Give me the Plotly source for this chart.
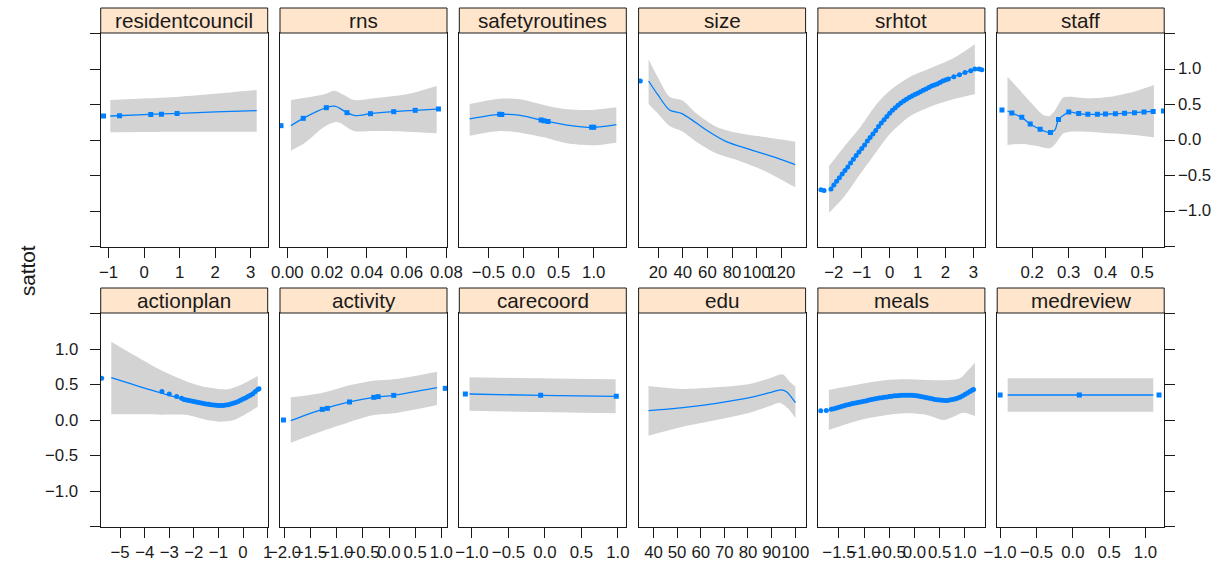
import plotly.graph_objects as go

# ---------------------------------------------------------------- data
# Each panel: fitted effect (fit), confidence limits (lo/hi) and the
# observed values drawn on the curve (px/py).

# residentcouncil
rc_x = [-0.95, 0.0, 1.0, 2.0, 3.17]
rc_fit = [0.338, 0.357, 0.376, 0.395, 0.413]
rc_hi = [0.563, 0.585, 0.61, 0.65, 0.704]
rc_lo = [0.108, 0.112, 0.115, 0.117, 0.117]
rc_px = [-1.14, -0.69, 0.19, 0.49, 0.93]
rc_py = [0.338, 0.343, 0.359, 0.364, 0.373]

# rns
rns_x = [0.0018, 0.008, 0.0196, 0.0243, 0.030, 0.0343, 0.0418, 0.0535, 0.0643, 0.0751]
rns_fit = [0.202, 0.305, 0.455, 0.474, 0.385, 0.343, 0.371, 0.399, 0.418, 0.435]
rns_hi_x = [0.0018, 0.0186, 0.0235, 0.0285, 0.0335, 0.0435, 0.06, 0.0751]
rns_hi = [0.563, 0.643, 0.695, 0.634, 0.563, 0.587, 0.643, 0.76]
rns_lo_x = [0.0018, 0.0085, 0.0186, 0.0251, 0.0335, 0.0435, 0.06, 0.0751]
rns_lo = [-0.150, -0.047, 0.188, 0.254, 0.127, 0.127, 0.117, 0.094]
rns_px = [-0.0032, 0.008, 0.0196, 0.030, 0.0418, 0.0535, 0.0643, 0.076]
rns_py = [0.202, 0.305, 0.455, 0.385, 0.371, 0.399, 0.418, 0.437]

# safetyroutines
sr_x = [-0.768, -0.34, -0.046, 0.287, 0.619, 0.99, 1.322]
sr_fit = [0.296, 0.361, 0.347, 0.272, 0.211, 0.178, 0.216]
sr_hi = [0.507, 0.582, 0.573, 0.493, 0.432, 0.423, 0.46]
sr_lo = [0.061, 0.127, 0.103, 0.038, -0.047, -0.075, -0.038]
sr_px = [-0.34, -0.31, 0.25, 0.29, 0.35, 0.97, 1.0]
sr_py = [0.361, 0.36, 0.28, 0.272, 0.262, 0.18, 0.178]

# size
sz_x = [12.3, 19.9, 29.3, 38.8, 45.6, 59.1, 75.3, 94.2, 113.1, 131.2]
sz_fit = [0.831, 0.634, 0.423, 0.376, 0.305, 0.141, -0.023, -0.131, -0.235, -0.347]
sz_band_x = [12.3, 20.9, 29.3, 40.1, 50.9, 67.1, 86.0, 107.6, 131.2]
sz_hi = [1.136, 0.845, 0.610, 0.554, 0.376, 0.188, 0.094, 0.038, -0.023]
sz_lo = [0.507, 0.352, 0.197, 0.117, -0.023, -0.188, -0.296, -0.446, -0.667]
sz_px = [5.6]
sz_py = [0.831]

# srhtot
sh_x = [-2.17, -1.63, -1.04, -0.445, 0.03, 0.74, 1.45, 2.28, 3.05]
sh_fit = [-0.718, -0.446, -0.141, 0.164, 0.399, 0.61, 0.751, 0.892, 1.0]
sh_hi = [-0.366, -0.094, 0.188, 0.516, 0.704, 0.892, 1.009, 1.150, 1.347]
sh_lo = [-1.023, -0.798, -0.469, -0.150, 0.094, 0.338, 0.469, 0.573, 0.643]
sh_px = [-2.46, -2.35, -2.1, -2.0, -1.9, -1.8, -1.7, -1.6, -1.5, -1.4, -1.3, -1.2,
         -1.1, -1.0, -0.9, -0.8, -0.7, -0.6, -0.5, -0.4, -0.3, -0.2, -0.1, 0.0,
         0.1, 0.2, 0.3, 0.4, 0.5, 0.6, 0.7, 0.8, 0.9, 1.0, 1.1, 1.2, 1.3, 1.4,
         1.5, 1.6, 1.7, 1.8, 1.9, 2.0, 2.1, 2.3, 2.5, 2.7, 2.9, 3.05, 3.2, 3.3]
sh_py = [-0.70, -0.71, -0.69, -0.635, -0.58, -0.53, -0.48, -0.43, -0.38, -0.325, -0.27, -0.22,
         -0.17, -0.12, -0.07, -0.015, 0.035, 0.085, 0.135, 0.19, 0.24, 0.285, 0.33, 0.375,
         0.42, 0.455, 0.49, 0.52, 0.55, 0.575, 0.60, 0.62, 0.64, 0.66, 0.68, 0.70, 0.72, 0.74,
         0.76, 0.775, 0.79, 0.81, 0.83, 0.845, 0.86, 0.89, 0.92, 0.95, 0.975, 1.0, 1.0, 0.99]

# staff
st_x = [0.133, 0.145, 0.172, 0.195, 0.222, 0.248, 0.262, 0.272, 0.286, 0.30, 0.322, 0.35, 0.413, 0.477, 0.532]
st_fit = [0.408, 0.38, 0.319, 0.225, 0.150, 0.105, 0.14, 0.29, 0.35, 0.395, 0.376, 0.361, 0.366, 0.385, 0.405]
st_hi_x = [0.133, 0.158, 0.195, 0.231, 0.248, 0.263, 0.286, 0.304, 0.35, 0.413, 0.477, 0.532]
st_hi = [0.892, 0.751, 0.540, 0.352, 0.338, 0.423, 0.601, 0.610, 0.587, 0.610, 0.681, 0.775]
st_lo_x = [0.133, 0.177, 0.213, 0.248, 0.263, 0.286, 0.304, 0.35, 0.413, 0.477, 0.532]
st_lo = [-0.070, -0.056, -0.085, -0.117, -0.056, 0.094, 0.117, 0.117, 0.094, 0.070, 0.038]
st_px = [0.118, 0.145, 0.172, 0.195, 0.222, 0.25, 0.272, 0.30, 0.327, 0.352, 0.378, 0.40,
         0.427, 0.452, 0.479, 0.505, 0.53, 0.558]
st_py = [0.423, 0.38, 0.319, 0.225, 0.150, 0.105, 0.29, 0.395, 0.372, 0.361, 0.362, 0.366,
         0.370, 0.376, 0.385, 0.393, 0.402, 0.408]

# actionplan
ap_x = [-5.36, -3.76, -2.41, -1.46, -1.05, -0.51, -0.10, 0.30, 0.60]
ap_fit = [0.596, 0.423, 0.291, 0.225, 0.202, 0.225, 0.282, 0.352, 0.432]
ap_hi_x = [-5.36, -4.44, -3.35, -2.27, -1.46, -0.64, -0.10, 0.30, 0.60]
ap_hi = [1.103, 0.915, 0.704, 0.540, 0.460, 0.432, 0.493, 0.563, 0.620]
ap_lo_x = [-5.36, -4.44, -3.35, -2.27, -1.46, -0.91, -0.37, 0.17, 0.60]
ap_lo = [0.080, 0.080, 0.075, 0.070, 0.0, -0.023, 0.0, 0.094, 0.188]
ap_px = [-5.75, -3.3, -3.0, -2.7, -2.5, -2.4, -2.3, -2.2, -2.1, -2.0, -1.9, -1.8, -1.7,
         -1.6, -1.5, -1.4, -1.3, -1.2, -1.1, -1.0, -0.9, -0.8, -0.7, -0.6, -0.5, -0.4,
         -0.3, -0.2, -0.1, 0.0, 0.1, 0.2, 0.3, 0.4, 0.5, 0.6, 0.65]
ap_py = [0.587, 0.40, 0.365, 0.33, 0.305, 0.29, 0.282, 0.275, 0.268, 0.26, 0.252, 0.245, 0.238,
         0.232, 0.227, 0.222, 0.216, 0.21, 0.206, 0.203, 0.203, 0.205, 0.21, 0.215, 0.224, 0.235,
         0.248, 0.262, 0.278, 0.295, 0.31, 0.33, 0.35, 0.37, 0.40, 0.43, 0.44]

# activity
ac_x = [-1.88, -1.277, -0.756, -0.292, 0.09, 0.918]
ac_fit = [-0.009, 0.150, 0.254, 0.319, 0.347, 0.455]
ac_band_x = [-1.88, -1.31, -0.737, -0.292, 0.09, 0.918]
ac_hi = [0.319, 0.376, 0.493, 0.554, 0.573, 0.681]
ac_lo = [-0.319, -0.164, -0.023, 0.070, 0.094, 0.211]
ac_px = [-2.02, -1.277, -1.18, -0.756, -0.292, -0.208, 0.09, 1.076]
ac_py = [0.0, 0.15, 0.164, 0.254, 0.319, 0.329, 0.347, 0.446]

# carecoord
cc_x = [-1.033, -0.059, 0.969]
cc_fit = [0.366, 0.347, 0.333]
cc_hi = [0.601, 0.587, 0.573]
cc_lo = [0.131, 0.112, 0.094]
cc_px = [-1.09, -0.059, 0.978]
cc_py = [0.366, 0.347, 0.333]

# edu
ed_x = [37.9, 52.5, 66.6, 80.7, 89.2, 93.9, 96.3, 100.1]
ed_fit = [0.131, 0.174, 0.235, 0.315, 0.385, 0.423, 0.399, 0.244]
ed_hi_x = [37.9, 52.5, 66.6, 80.7, 89.2, 94.6, 97.7, 100.1]
ed_hi = [0.479, 0.437, 0.460, 0.507, 0.587, 0.643, 0.540, 0.469]
ed_lo_x = [37.9, 52.5, 66.6, 80.7, 89.2, 93.4, 96.9, 100.1]
ed_lo = [-0.221, -0.094, 0.0, 0.103, 0.197, 0.244, 0.164, 0.023]
ed_px = []
ed_py = []

# meals
ml_x = [-1.70, -1.073, -0.545, -0.184, 0.113, 0.573, 0.771, 1.035, 1.20]
ml_fit = [0.141, 0.258, 0.329, 0.352, 0.329, 0.272, 0.291, 0.376, 0.432]
ml_hi_x = [-1.70, -1.073, -0.545, -0.15, 0.245, 0.705, 0.903, 1.035, 1.20]
ml_hi = [0.423, 0.507, 0.563, 0.573, 0.563, 0.563, 0.587, 0.681, 0.808]
ml_lo_x = [-1.70, -1.073, -0.545, -0.15, 0.245, 0.573, 0.771, 0.968, 1.20]
ml_lo = [-0.141, 0.0, 0.070, 0.094, 0.070, 0.0, 0.047, 0.103, 0.056]
ml_px = [-1.86, -1.75, -1.65, -1.6, -1.55, -1.5, -1.45, -1.4, -1.35, -1.3, -1.25, -1.2,
         -1.15, -1.1, -1.05, -1.0, -0.95, -0.9, -0.85, -0.8, -0.75, -0.7, -0.65, -0.6,
         -0.55, -0.5, -0.45, -0.4, -0.35, -0.3, -0.25, -0.2, -0.15, -0.1, -0.05, 0.0,
         0.05, 0.1, 0.15, 0.2, 0.25, 0.3, 0.35, 0.4, 0.45, 0.5, 0.55, 0.6, 0.65, 0.7,
         0.75, 0.8, 0.85, 0.9, 0.95, 1.0, 1.05, 1.1, 1.14, 1.17]
ml_py = [0.13, 0.135, 0.15, 0.16, 0.17, 0.18, 0.19, 0.20, 0.21, 0.22, 0.228, 0.235,
         0.243, 0.25, 0.258, 0.265, 0.272, 0.28, 0.288, 0.295, 0.302, 0.31, 0.315, 0.32,
         0.325, 0.33, 0.335, 0.34, 0.343, 0.345, 0.348, 0.35, 0.35, 0.35, 0.348, 0.345,
         0.34, 0.335, 0.328, 0.32, 0.312, 0.305, 0.298, 0.29, 0.285, 0.28, 0.277, 0.275, 0.276,
         0.28, 0.287, 0.295, 0.306, 0.32, 0.338, 0.36, 0.38, 0.40, 0.42, 0.43]

# medreview
mr_x = [-0.896, 1.107]
mr_fit = [0.352, 0.352]
mr_hi = [0.587, 0.587]
mr_lo = [0.117, 0.117]
mr_px = [-1.0, 0.09, 1.186]
mr_py = [0.352, 0.352, 0.352]

# axis ticks
y_ticks = [-1.5, -1.0, -0.5, 0.0, 0.5, 1.0, 1.5]
y_labels = ["", "−1.0", "−0.5", "0.0", "0.5", "1.0", ""]

rc_ticks, rc_labels = [-1, 0, 1, 2, 3], ["−1", "0", "1", "2", "3"]
rns_ticks, rns_labels = [0.0, 0.02, 0.04, 0.06, 0.08], ["0.00", "0.02", "0.04", "0.06", "0.08"]
sr_ticks, sr_labels = [-0.5, 0.0, 0.5, 1.0], ["−0.5", "0.0", "0.5", "1.0"]
sz_ticks, sz_labels = [20, 40, 60, 80, 100, 120], ["20", "40", "60", "80", "100", "120"]
sh_ticks, sh_labels = [-2, -1, 0, 1, 2, 3], ["−2", "−1", "0", "1", "2", "3"]
st_ticks, st_labels = [0.2, 0.3, 0.4, 0.5], ["0.2", "0.3", "0.4", "0.5"]
ap_ticks, ap_labels = [-5, -4, -3, -2, -1, 0, 1], ["−5", "−4", "−3", "−2", "−1", "0", "1"]
ac_ticks = [-2.0, -1.5, -1.0, -0.5, 0.0, 0.5, 1.0]
ac_labels = ["−2.0", "−1.5", "−1.0", "−0.5", "0.0", "0.5", "1.0"]
cc_ticks, cc_labels = [-1.0, -0.5, 0.0, 0.5, 1.0], ["−1.0", "−0.5", "0.0", "0.5", "1.0"]
ed_ticks = [40, 50, 60, 70, 80, 90, 100]
ed_labels = ["40", "50", "60", "70", "80", "90", "100"]
ml_ticks = [-1.5, -1.0, -0.5, 0.0, 0.5, 1.0]
ml_labels = ["−1.5", "−1.0", "−0.5", "0.0", "0.5", "1.0"]
mr_ticks, mr_labels = [-1.0, -0.5, 0.0, 0.5, 1.0], ["−1.0", "−0.5", "0.0", "0.5", "1.0"]

# ---------------------------------------------------------------- panels
panels = [
    dict(name="residentcouncil", x=rc_x, fit=rc_fit, hx=rc_x, hi=rc_hi, lx=rc_x, lo=rc_lo,
         px=rc_px, py=rc_py, rng=[-1.22, 3.48], tv=rc_ticks, tt=rc_labels, sym="square"),
    dict(name="rns", x=rns_x, fit=rns_fit, hx=rns_hi_x, hi=rns_hi, lx=rns_lo_x, lo=rns_lo,
         px=rns_px, py=rns_py, rng=[-0.0037, 0.0803], tv=rns_ticks, tt=rns_labels, sym="square"),
    dict(name="safetyroutines", x=sr_x, fit=sr_fit, hx=sr_x, hi=sr_hi, lx=sr_x, lo=sr_lo,
         px=sr_px, py=sr_py, rng=[-0.915, 1.464], tv=sr_ticks, tt=sr_labels, sym="square"),
    dict(name="size", x=sz_x, fit=sz_fit, hx=sz_band_x, hi=sz_hi, lx=sz_band_x, lo=sz_lo,
         px=sz_px, py=sz_py, rng=[4.2, 139.6], tv=sz_ticks, tt=sz_labels, sym="circle"),
    dict(name="srhtot", x=sh_x, fit=sh_fit, hx=sh_x, hi=sh_hi, lx=sh_x, lo=sh_lo,
         px=sh_px, py=sh_py, rng=[-2.57, 3.41], tv=sh_ticks, tt=sh_labels, sym="circle"),
    dict(name="staff", x=st_x, fit=st_fit, hx=st_hi_x, hi=st_hi, lx=st_lo_x, lo=st_lo,
         px=st_px, py=st_py, rng=[0.105, 0.56], tv=st_ticks, tt=st_labels, sym="square"),
    dict(name="actionplan", x=ap_x, fit=ap_fit, hx=ap_hi_x, hi=ap_hi, lx=ap_lo_x, lo=ap_lo,
         px=ap_px, py=ap_py, rng=[-5.79, 1.005], tv=ap_ticks, tt=ap_labels, sym="circle"),
    dict(name="activity", x=ac_x, fit=ac_fit, hx=ac_band_x, hi=ac_hi, lx=ac_band_x, lo=ac_lo,
         px=ac_px, py=ac_py, rng=[-2.086, 1.109], tv=ac_ticks, tt=ac_labels, sym="square"),
    dict(name="carecoord", x=cc_x, fit=cc_fit, hx=cc_x, hi=cc_hi, lx=cc_x, lo=cc_lo,
         px=cc_px, py=cc_py, rng=[-1.173, 1.115], tv=cc_ticks, tt=cc_labels, sym="square"),
    dict(name="edu", x=ed_x, fit=ed_fit, hx=ed_hi_x, hi=ed_hi, lx=ed_lo_x, lo=ed_lo,
         px=ed_px, py=ed_py, rng=[33.7, 104.4], tv=ed_ticks, tt=ed_labels, sym="square"),
    dict(name="meals", x=ml_x, fit=ml_fit, hx=ml_hi_x, hi=ml_hi, lx=ml_lo_x, lo=ml_lo,
         px=ml_px, py=ml_py, rng=[-1.917, 1.397], tv=ml_ticks, tt=ml_labels, sym="circle"),
    dict(name="medreview", x=mr_x, fit=mr_fit, hx=mr_x, hi=mr_hi, lx=mr_x, lo=mr_lo,
         px=mr_px, py=mr_py, rng=[-1.04, 1.257], tv=mr_ticks, tt=mr_labels, sym="square"),
]

# ---------------------------------------------------------------- layout geometry
W, H = 1225, 567
LEFT0, STEP, PW = 100.7, 179.3, 167.0
ROW_TOP = [33.0, 313.0]
ROW_BOT = [247.0, 527.0]
STRIP_H = 25.0
YR = [-1.507, 1.507]
LEFT_LABEL_END = 80.0      # right edge of the left-hand y labels
RIGHT_LABEL_START = 1176.0  # left edge of the right-hand y labels

BLUE = "#0080ff"
BAND = "#d3d3d3"
INK = "#1a1a1a"
FONT = "Liberation Sans, Arial, Helvetica, sans-serif"
TICK_FS = 16.8
STRIP_FS = 20.7

fig = go.Figure()
shapes, annotations = [], []
layout_axes = {}

for i, p in enumerate(panels):
    row, col = divmod(i, 6)
    k = i + 1
    xs = "x" if k == 1 else f"x{k}"
    ys = "y" if k == 1 else f"y{k}"
    x0 = LEFT0 + col * STEP
    x1 = x0 + PW
    top, bot = ROW_TOP[row], ROW_BOT[row]
    xdom = [x0 / W, x1 / W]
    ydom = [1 - bot / H, 1 - top / H]

    # confidence band
    fig.add_trace(go.Scatter(x=p["lx"], y=p["lo"], mode="lines", xaxis=xs, yaxis=ys,
                             line=dict(width=0, shape="spline", smoothing=0.8),
                             hoverinfo="skip", showlegend=False))
    fig.add_trace(go.Scatter(x=p["hx"], y=p["hi"], mode="lines", xaxis=xs, yaxis=ys,
                             line=dict(width=0, shape="spline", smoothing=0.8),
                             fill="tonexty", fillcolor=BAND,
                             hoverinfo="skip", showlegend=False))
    # fitted effect
    fig.add_trace(go.Scatter(x=p["x"], y=p["fit"], mode="lines", xaxis=xs, yaxis=ys,
                             line=dict(color=BLUE, width=1.3, shape="spline", smoothing=0.8),
                             showlegend=False))
    # observed values
    if p["px"]:
        fig.add_trace(go.Scatter(x=p["px"], y=p["py"], mode="markers", xaxis=xs, yaxis=ys,
                                 marker=dict(color=BLUE, size=5, symbol=p["sym"],
                                             line=dict(width=0)),
                                 showlegend=False))

    xa = dict(domain=xdom, range=p["rng"], anchor=ys, tickvals=p["tv"], ticktext=p["tt"],
              ticks="outside", ticklen=10, tickwidth=1, tickcolor=INK, tickangle=0,
              tickfont=dict(size=TICK_FS, color=INK, family=FONT), automargin=False,
              showline=True, linecolor=INK, linewidth=1, mirror=True,
              showgrid=False, zeroline=False, fixedrange=True)
    ya = dict(domain=ydom, range=YR, anchor=xs, tickvals=y_ticks, showticklabels=False,
              automargin=False, showline=True, linecolor=INK, linewidth=1, mirror=True,
              showgrid=False, zeroline=False, fixedrange=True)
    if col in (0, 5):
        ya.update(ticks="outside", ticklen=10, tickcolor=INK,
                  side="left" if col == 0 else "right")
    else:
        ya.update(ticks="")

    # y labels: left of the second row, right of the first row
    if (col == 0 and row == 1) or (col == 5 and row == 0):
        for v, lbl in zip(y_ticks, y_labels):
            if not lbl:
                continue
            annotations.append(dict(
                text=lbl, xref="paper", yref=ys, y=v,
                x=(LEFT_LABEL_END if col == 0 else RIGHT_LABEL_START) / W,
                xanchor="right" if col == 0 else "left", yanchor="middle",
                showarrow=False, font=dict(size=TICK_FS, color=INK, family=FONT)))

    layout_axes["xaxis" if k == 1 else f"xaxis{k}"] = xa
    layout_axes["yaxis" if k == 1 else f"yaxis{k}"] = ya

    # strip
    shapes.append(dict(type="rect", xref="paper", yref="paper",
                       x0=x0 / W, x1=x1 / W,
                       y0=1 - top / H, y1=1 - (top - STRIP_H) / H,
                       fillcolor="#ffe5cc", line=dict(color=INK, width=1), layer="above"))
    annotations.append(dict(text=p["name"], xref="paper", yref="paper",
                            x=(x0 + x1) / 2 / W, y=1 - (top - STRIP_H / 2) / H,
                            xanchor="center", yanchor="middle", showarrow=False,
                            font=dict(size=STRIP_FS, color=INK, family=FONT)))

annotations.append(dict(text="sattot", xref="paper", yref="paper",
                        x=27 / W, y=1 - 271 / H, xanchor="center", yanchor="middle",
                        textangle=-90, showarrow=False,
                        font=dict(size=STRIP_FS, color=INK, family=FONT)))

fig.update_layout(width=W, height=H,
                  margin=dict(l=0, r=0, t=0, b=0, pad=0, autoexpand=False),
                  paper_bgcolor="white", plot_bgcolor="white",
                  font=dict(family=FONT, color=INK),
                  shapes=shapes, annotations=annotations, showlegend=False,
                  **layout_axes)

fig.write_html("out.html")
